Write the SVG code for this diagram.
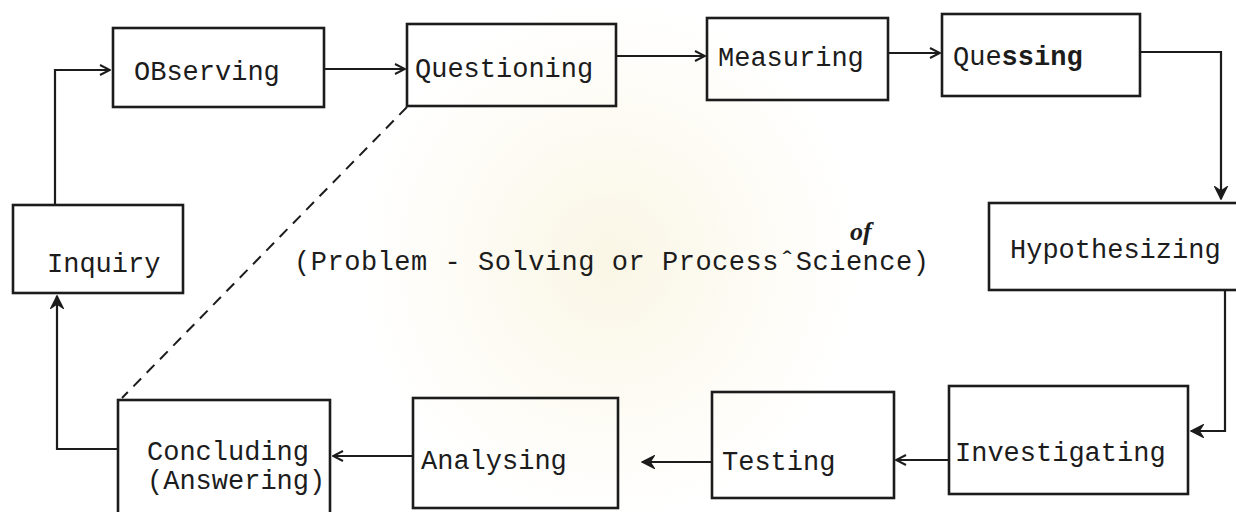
<svg xmlns="http://www.w3.org/2000/svg" width="1236" height="512" viewBox="0 0 1236 512">
  <style>
    .box { fill: none; stroke: #1c1c1c; stroke-width: 2.6; }
    .lbl { font-family: "Liberation Mono", "DejaVu Sans Mono", monospace; font-size: 27px; fill: #1c1c1c; }
    .note { font-family: "Liberation Serif", serif; font-style: italic; font-weight: bold; font-size: 26px; fill: #1c1c1c; }
    .wire { fill: none; stroke: #1c1c1c; stroke-width: 2.2; }
    .open { marker-end: url(#chev); }
    .solid { marker-end: url(#head); }
    .dash { fill: none; stroke: #1c1c1c; stroke-width: 2; stroke-dasharray: 11 8; }
  </style>
  <defs>
    <marker id="chev" viewBox="0 0 12 12" refX="11" refY="6" markerWidth="12" markerHeight="12" markerUnits="userSpaceOnUse" orient="auto">
      <path d="M1,1 L11,6 L1,11" fill="none" stroke="#1c1c1c" stroke-width="2"/>
    </marker>
    <marker id="head" viewBox="0 0 14 14" refX="13" refY="7" markerWidth="14" markerHeight="14" markerUnits="userSpaceOnUse" orient="auto">
      <path d="M1,1 L13,7 L1,13 L5,7 Z" fill="#1c1c1c" stroke="#1c1c1c" stroke-width="1.5"/>
    </marker>
    <radialGradient id="glow" cx="0.5" cy="0.5" r="0.5">
      <stop offset="0" stop-color="#f3e9bf" stop-opacity="0.4"/>
      <stop offset="1" stop-color="#f3e9bf" stop-opacity="0"/>
    </radialGradient>
  </defs>

  <rect width="1236" height="512" fill="#ffffff"/>
  <!-- faint emblem tint behind the caption -->
  <ellipse cx="610" cy="260" rx="250" ry="260" fill="url(#glow)"/>

  <!-- connectors -->
  <g id="connectors">
    <path class="wire open" d="M55,205 L55,70 L110,70"/>
    <path class="wire open" d="M324,69 L405,69"/>
    <path class="wire open" d="M616,56 L705,56"/>
    <path class="wire open" d="M888,53 L940,53"/>
    <path class="wire solid" d="M1140,52 L1221,52 L1221,199"/>
    <path class="wire solid" d="M1225,290 L1225,431 L1191,431"/>
    <path class="wire open" d="M949,460 L896,460"/>
    <path class="wire solid" d="M712,462 L642,462"/>
    <path class="wire open" d="M413,456 L333,456"/>
    <path class="wire solid" d="M118,449 L57,449 L57,296"/>
    <path class="dash" d="M407,107 L122,398"/>
  </g>

  <!-- top row -->
  <g id="observing">
    <rect class="box" x="113" y="28" width="211" height="79"/>
    <text class="lbl" x="134" y="80">OBserving</text>
  </g>
  <g id="questioning">
    <rect class="box" x="407" y="24" width="209" height="82"/>
    <text class="lbl" x="415" y="77">Questioning</text>
  </g>
  <g id="measuring">
    <rect class="box" x="707" y="18" width="181" height="82"/>
    <text class="lbl" x="718" y="66">Measuring</text>
  </g>
  <g id="quessing">
    <rect class="box" x="942" y="14" width="198" height="82"/>
    <text class="lbl" x="953" y="65">Que<tspan font-weight="bold">ssing</tspan></text>
  </g>

  <!-- middle row -->
  <g id="inquiry">
    <rect class="box" x="13" y="205" width="170" height="88"/>
    <text class="lbl" x="47" y="272">Inquiry</text>
  </g>
  <g id="caption">
    <text class="lbl" x="294" y="270" textLength="635" lengthAdjust="spacing">(Problem - Solving or ProcessˆScience)</text>
    <text class="note" x="850" y="240">of</text>
  </g>
  <g id="hypothesizing">
    <rect class="box" x="989" y="203" width="260" height="87"/>
    <text class="lbl" x="1010" y="258">Hypothesizing</text>
  </g>

  <!-- bottom row -->
  <g id="concluding">
    <rect class="box" x="118" y="400" width="212" height="120"/>
    <text class="lbl" x="147" y="460">Concluding</text>
    <text class="lbl" x="147" y="489">(Answering)</text>
  </g>
  <g id="analysing">
    <rect class="box" x="413" y="398" width="205" height="110"/>
    <text class="lbl" x="421" y="469">Analysing</text>
  </g>
  <g id="testing">
    <rect class="box" x="712" y="392" width="182" height="106"/>
    <text class="lbl" x="722" y="470">Testing</text>
  </g>
  <g id="investigating">
    <rect class="box" x="949" y="386" width="239" height="108"/>
    <text class="lbl" x="955" y="461">Investigating</text>
  </g>
</svg>
